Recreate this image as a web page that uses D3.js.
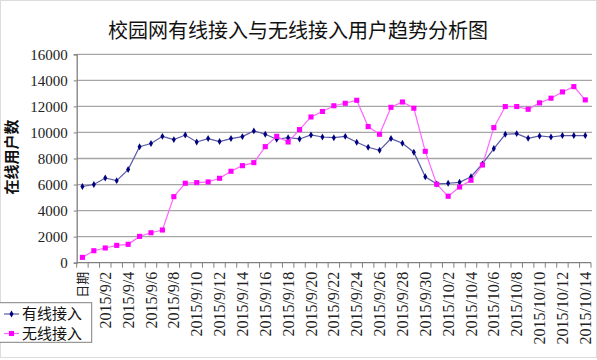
<!DOCTYPE html>
<html><head><meta charset="utf-8">
<script src="https://cdn.jsdelivr.net/npm/d3@7/dist/d3.min.js"></script>
<style>
html,body{margin:0;padding:0;background:#fff;}
svg{display:block;}
</style>
</head><body>
<svg id="c" width="597" height="360"></svg>
<script>
const categories = ["日期","2015/9/1","2015/9/2","2015/9/3","2015/9/4","2015/9/5","2015/9/6","2015/9/7","2015/9/8","2015/9/9","2015/9/10",
"2015/9/11","2015/9/12","2015/9/13","2015/9/14","2015/9/15","2015/9/16","2015/9/17","2015/9/18","2015/9/19","2015/9/20",
"2015/9/21","2015/9/22","2015/9/23","2015/9/24","2015/9/25","2015/9/26","2015/9/27","2015/9/28","2015/9/29","2015/9/30",
"2015/10/1","2015/10/2","2015/10/3","2015/10/4","2015/10/5","2015/10/6","2015/10/7","2015/10/8","2015/10/9","2015/10/10",
"2015/10/11","2015/10/12","2015/10/13","2015/10/14"];
const wired = [5850,6000,6500,6300,7150,8900,9150,9700,9450,9800,9270,9530,9300,9530,9680,10120,9860,9480,9600,9500,9810,
9650,9600,9700,9250,8860,8630,9530,9170,8480,6600,6050,6100,6170,6600,7580,8760,9860,9910,9550,9730,9650,9760,9760,9760];
const wireless = [410,920,1130,1330,1410,2020,2300,2510,5070,6100,6150,6200,6480,7020,7450,7680,8910,9700,9270,10220,11190,
11610,12050,12240,12470,10450,9860,11930,12340,11860,8550,6020,5100,5810,6330,7500,10370,11990,11990,11780,12270,12630,13110,13520,12500];
const yTicks = [0,2000,4000,6000,8000,10000,12000,14000,16000];
const seriesNames = ["有线接入","无线接入"];
const title = "校园网有线接入与无线接入用户趋势分析图";
const yTitle = "在线用户数";

const svg = d3.select("#c");
const serif = "'Liberation Serif','Times New Roman','Noto Sans CJK SC',serif";
const cjk = "'Noto Sans CJK SC','Liberation Serif',serif";

svg.append("rect").attr("x",0.5).attr("y",0.5).attr("width",596).attr("height",357)
  .attr("fill","#fff").attr("stroke","#dcdcdc");

const L = 76.7, R = 591, T = 54.3, B = 262.7;
const x = d3.scaleBand().domain(categories).range([L,R]).paddingInner(0).paddingOuter(0);
const y = d3.scaleLinear().domain([0,16000]).range([B,T]);
const cx = d => x(d) + x.bandwidth()/2;

// gridlines
svg.append("g").selectAll("line").data(yTicks.filter(v=>v>0)).join("line")
  .attr("x1",L).attr("x2",R+1).attr("y1",d=>y(d)).attr("y2",d=>y(d))
  .attr("stroke","#a6a6a6").attr("stroke-width",1.3);

// y axis
const yAxis = d3.axisLeft(y).tickValues(yTicks).tickSize(3).tickPadding(6).tickFormat(d3.format("d"));
const gy = svg.append("g").attr("transform",`translate(${L},0)`).call(yAxis);
gy.select(".domain").attr("stroke","#808080").attr("stroke-width",1.3);
gy.selectAll(".tick line").attr("stroke","#808080");
gy.selectAll(".tick text").attr("font-family",serif).attr("font-size","15px").attr("fill","#222");

// x axis
const gx = svg.append("g").attr("transform",`translate(0,${B})`);
gx.append("line").attr("x1",L).attr("x2",R).attr("y1",0).attr("y2",0).attr("stroke","#808080").attr("stroke-width",1.3);
const bounds = categories.map(c=>x(c)).concat([R]);
gx.selectAll("line.tk").data(bounds).join("line").attr("class","tk")
  .attr("x1",d=>d).attr("x2",d=>d).attr("y1",0).attr("y2",5).attr("stroke","#808080");
gx.selectAll("text").data(categories.filter((c,i)=>i%2===0)).join("text")
  .attr("transform",d=>`translate(${cx(d)},9) rotate(-90)`)
  .attr("dy","0.35em").attr("text-anchor","end")
  .attr("font-family",d=>d==="日期"?cjk:serif)
  .attr("font-size",d=>d==="日期"?"13px":"16px").attr("fill","#222")
  .text(d=>d);

// lines
const line = d3.line().x((d,i)=>cx(categories[i])).y(d=>y(d));
svg.append("path").datum(wired).attr("d",line).attr("fill","none").attr("stroke","#5a5aa8").attr("stroke-width",1.2);
svg.append("path").datum(wireless).attr("d",line).attr("fill","none").attr("stroke","#ff66ff").attr("stroke-width",1.2);

const diamond = d3.symbol().type(d3.symbolDiamond).size(14);
const square = d3.symbol().type(d3.symbolSquare).size(26);
svg.append("g").selectAll("path").data(wired).join("path")
  .attr("d",diamond).attr("transform",(d,i)=>`translate(${cx(categories[i])},${y(d)})`).attr("fill","#000080");
svg.append("g").selectAll("path").data(wireless).join("path")
  .attr("d",square).attr("transform",(d,i)=>`translate(${cx(categories[i])},${y(d)})`).attr("fill","#ff00ff");

// title
svg.append("text").attr("x",298).attr("y",38).attr("text-anchor","middle")
  .attr("font-family",cjk).attr("font-size","20px").attr("fill","#111").text(title);

// y title
svg.append("text").attr("transform","translate(12,157) rotate(-90)")
  .attr("text-anchor","middle").attr("dy","0.35em")
  .attr("font-family",cjk).attr("font-size","15px").attr("font-weight","bold").attr("fill","#111").text(yTitle);

// legend
const lg = svg.append("g");
lg.append("rect").attr("x",-1).attr("y",302.7).attr("width",92.7).attr("height",39.6)
  .attr("fill","#fff").attr("stroke","#808080");
const items = [{n:seriesNames[0],c:"#5a5aa8",m:"#000080",s:diamond,yy:314},{n:seriesNames[1],c:"#ff66ff",m:"#ff00ff",s:square,yy:333.5}];
items.forEach(it=>{
  lg.append("line").attr("x1",4).attr("x2",19).attr("y1",it.yy).attr("y2",it.yy).attr("stroke",it.c).attr("stroke-width",1.2);
  lg.append("path").attr("d",it.s).attr("transform",`translate(11.5,${it.yy})`).attr("fill",it.m);
  lg.append("text").attr("x",22).attr("y",it.yy).attr("dy","0.36em")
    .attr("font-family",cjk).attr("font-size","15px").attr("fill","#111").text(it.n);
});
</script>
</body></html>
